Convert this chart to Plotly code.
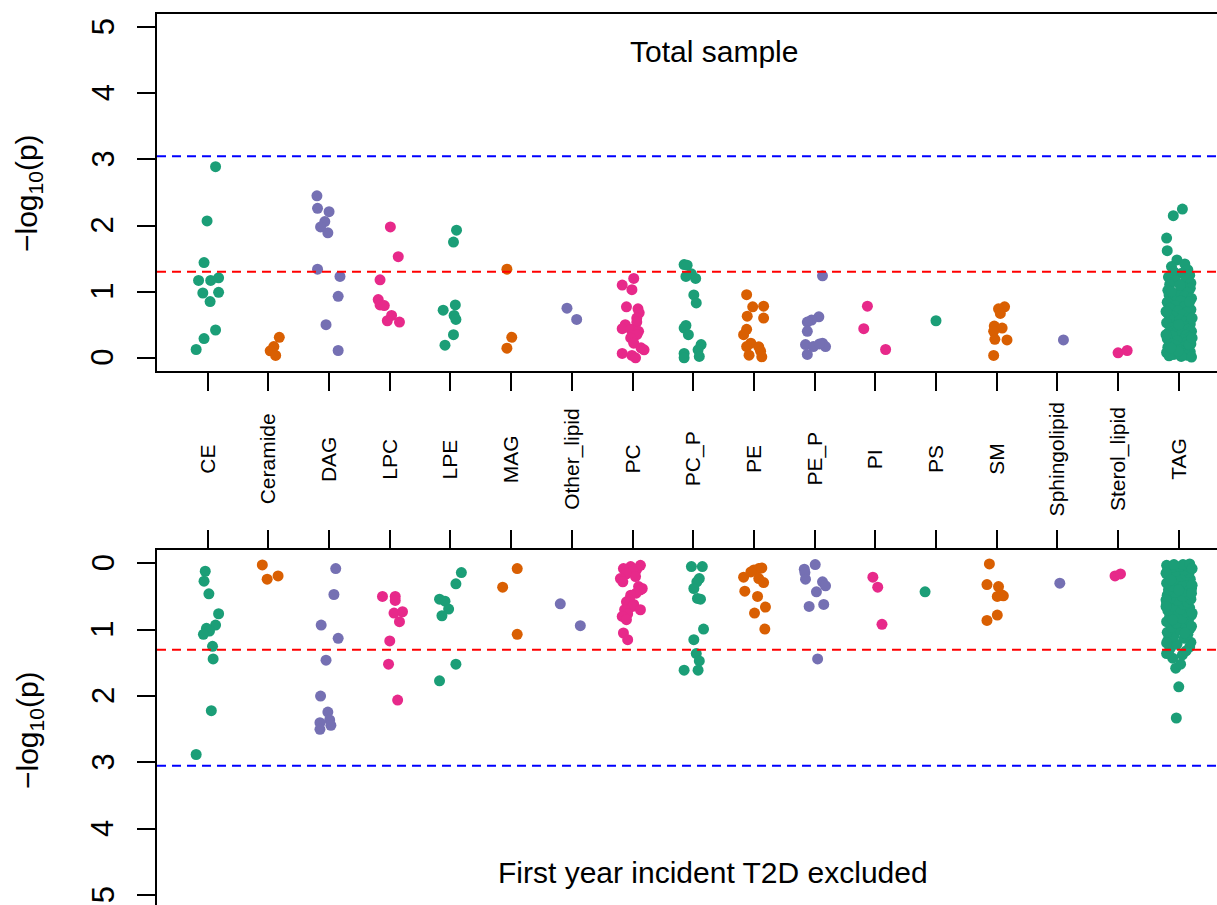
import plotly.graph_objects as go

# ---------------- data ----------------
categories = ["CE", "Ceramide", "DAG", "LPC", "LPE", "MAG", "Other_lipid", "PC",
              "PC_P", "PE", "PE_P", "PI", "PS", "SM", "Sphingolipid", "Sterol_lipid", "TAG"]
y_ticks = [0, 1, 2, 3, 4, 5]
y_tick_labels = ["0", "1", "2", "3", "4", "5"]
palette = ["#1B9E77", "#D95F02", "#7570B3", "#E7298A"]
bonferroni = 3.05
nominal = 1.301

# Total sample: -log10(p) values and horizontal jitter
CE_total = [2.89, 2.07, 1.44, 1.17, 1.17, 1.21, 0.98, 0.99, 0.85, 0.42, 0.29, 0.125]
CE_total_jit = [0.13, -0.01, -0.06, -0.15, 0.05, 0.18, -0.08, 0.18, 0.04, 0.13, -0.06, -0.19]
Ceramide_total = [0.31, 0.17, 0.105, 0.035]
Ceramide_total_jit = [0.18, 0.09, 0.03, 0.12]
DAG_total = [2.45, 2.26, 2.21, 2.06, 1.98, 1.89, 1.34, 1.23, 0.93, 0.50, 0.11]
DAG_total_jit = [-0.20, -0.19, 0.00, -0.07, -0.14, -0.02, -0.19, 0.18, 0.15, -0.05, 0.15]
LPC_total = [1.98, 1.53, 1.18, 0.88, 0.80, 0.79, 0.64, 0.56, 0.54]
LPC_total_jit = [0.01, 0.14, -0.16, -0.19, -0.16, -0.09, 0.03, -0.04, 0.16]
LPE_total = [1.93, 1.75, 0.80, 0.72, 0.64, 0.58, 0.35, 0.19]
LPE_total_jit = [0.10, 0.05, 0.08, -0.12, 0.06, 0.09, 0.05, -0.09]
MAG_total = [1.34, 0.31, 0.145]
MAG_total_jit = [-0.07, 0.01, -0.07]
Other_lipid_total = [0.75, 0.58]
Other_lipid_total_jit = [-0.08, 0.08]
PC_total = [1.20, 1.10, 1.03, 0.77, 0.74, 0.68, 0.60, 0.54, 0.50, 0.44, 0.43, 0.40, 0.35, 0.30,
            0.22, 0.15, 0.12, 0.065, 0.035, 0.00]
PC_total_jit = [0.02, -0.17, -0.01, -0.10, 0.09, 0.11, 0.07, 0.07, -0.12, -0.17, -0.03, 0.10, 0.07,
                -0.03, 0.02, 0.14, 0.19, -0.17, -0.01, 0.05]
PC_P_total = [1.41, 1.40, 1.27, 1.23, 1.20, 0.95, 0.83, 0.49, 0.45, 0.35, 0.20, 0.12, 0.065, 0.02, 0.00]
PC_P_total_jit = [-0.15, -0.10, -0.03, -0.12, 0.04, 0.01, 0.05, -0.12, -0.15, -0.08, 0.13, 0.08,
                  -0.15, 0.10, -0.15]
PE_total = [0.955, 0.78, 0.77, 0.63, 0.60, 0.43, 0.35, 0.22, 0.17, 0.165, 0.10, 0.015, 0.04]
PE_total_jit = [-0.12, 0.16, -0.02, -0.11, 0.16, -0.12, -0.17, -0.05, -0.12, 0.08, 0.11, 0.13, -0.08]
PE_P_total = [1.24, 0.62, 0.57, 0.54, 0.40, 0.22, 0.20, 0.17, 0.17, 0.05, 0.21]
PE_P_total_jit = [0.13, 0.07, -0.05, -0.12, -0.12, 0.13, -0.15, -0.02, 0.18, -0.12, 0.08]
PI_total = [0.78, 0.44, 0.125]
PI_total_jit = [-0.13, -0.19, 0.17]
PS_total = [0.56]
PS_total_jit = [0.0]
SM_total = [0.77, 0.74, 0.67, 0.48, 0.45, 0.40, 0.28, 0.27, 0.035]
SM_total_jit = [0.13, 0.03, 0.06, -0.04, 0.09, -0.05, -0.03, 0.17, -0.05]
Sphingolipid_total = [0.27]
Sphingolipid_total_jit = [0.10]
Sterol_lipid_total = [0.075, 0.11]
Sterol_lipid_total_jit = [0.0, 0.15]
TAG_total = [2.25, 2.15, 1.81, 1.62, 1.48, 1.42, 1.38, 1.33, 1.30, 1.28, 1.25, 1.22, 1.19, 1.16, 1.13,
             1.11, 1.07, 1.05, 1.02, 0.99, 0.97, 0.95, 0.93, 0.90, 0.88, 0.86, 0.84, 0.81, 0.79, 0.77,
             0.75, 0.73, 0.71, 0.69, 0.67, 0.65, 0.63, 0.61, 0.59, 0.57, 0.55, 0.53, 0.51, 0.49, 0.47,
             0.45, 0.43, 0.41, 0.40, 0.38, 0.36, 0.34, 0.33, 0.31, 0.29, 0.27, 0.26, 0.24, 0.22, 0.21,
             0.19, 0.17, 0.16, 0.14, 0.12, 0.11, 0.09, 0.08, 0.06, 0.05, 0.04, 0.03, 0.02, 0.01, 0.10,
             0.35, 0.60, 0.85, 1.00, 0.70, 0.20, 0.50, 0.30, 1.10, 0.15]
TAG_total_jit = [0.06, -0.09, -0.20, -0.19, -0.03, 0.10, -0.12, 0.15, -0.08, 0.05, 0.18, -0.17, 0.12,
                 -0.05, 0.20, -0.15, 0.08, 0.19, -0.18, 0.14, -0.02, -0.16, 0.10, 0.21, -0.10, 0.03,
                 -0.19, 0.16, -0.06, 0.09, -0.14, 0.20, -0.01, 0.13, -0.18, 0.06, -0.09, 0.17, -0.15,
                 0.02, 0.11, -0.20, 0.19, -0.04, 0.08, -0.13, 0.15, -0.07, 0.21, -0.17, 0.04, 0.12,
                 -0.10, 0.18, -0.19, 0.07, -0.03, 0.14, -0.15, 0.20, -0.06, 0.10, -0.18, 0.16, 0.01,
                 -0.11, 0.19, -0.20, 0.08, -0.08, 0.13, -0.16, 0.04, 0.21, -0.01, -0.21, 0.22, 0.18,
                 -0.12, -0.21, 0.17, 0.00, 0.22, 0.02, -0.13]

# First year incident T2D excluded
CE_excl = [0.12, 0.27, 0.46, 0.76, 0.93, 0.98, 1.02, 1.07, 1.25, 1.44, 2.22, 2.88]
CE_excl_jit = [-0.04, -0.06, 0.02, 0.18, 0.13, -0.02, 0.03, -0.07, 0.08, 0.09, 0.06, -0.19]
Ceramide_excl = [0.025, 0.24, 0.19]
Ceramide_excl_jit = [-0.10, -0.02, 0.16]
DAG_excl = [0.08, 0.47, 0.93, 1.13, 1.46, 2.00, 2.24, 2.36, 2.40, 2.44, 2.50]
DAG_excl_jit = [0.11, 0.08, -0.13, 0.15, -0.05, -0.14, -0.02, 0.01, -0.15, 0.03, -0.15]
LPC_excl = [0.50, 0.50, 0.56, 0.75, 0.73, 0.88, 1.17, 1.52, 2.06]
LPC_excl_jit = [-0.12, 0.09, 0.09, 0.07, 0.21, 0.16, 0.00, -0.02, 0.13]
LPE_excl = [0.14, 0.31, 0.54, 0.57, 0.69, 0.79, 1.52, 1.77]
LPE_excl_jit = [0.18, 0.09, -0.18, -0.09, -0.03, -0.14, 0.09, -0.18]
MAG_excl = [0.08, 0.36, 1.07]
MAG_excl_jit = [0.10, -0.14, 0.10]
Other_lipid_excl = [0.61, 0.94]
Other_lipid_excl_jit = [-0.19, 0.14]
PC_excl = [0.03, 0.05, 0.08, 0.09, 0.12, 0.16, 0.20, 0.23, 0.28, 0.35, 0.38, 0.40, 0.45, 0.48, 0.55,
           0.58, 0.62, 0.65, 0.70, 0.70, 0.76, 0.80, 0.85, 1.05, 1.15]
PC_excl_jit = [0.13, -0.03, -0.15, 0.07, 0.01, -0.10, 0.05, -0.20, -0.16, 0.10, 0.16, 0.13, 0.06,
               -0.03, -0.05, -0.10, 0.02, 0.00, -0.13, 0.13, -0.08, -0.17, -0.10, -0.15, -0.08]
PC_P_excl = [0.05, 0.05, 0.23, 0.28, 0.38, 0.53, 0.54, 0.99, 1.15, 1.36, 1.47, 1.61, 1.61]
PC_P_excl_jit = [-0.03, 0.15, 0.10, 0.06, 0.01, 0.07, 0.12, 0.17, 0.01, 0.05, 0.10, -0.15, 0.08]
PE_excl = [0.21, 0.10, 0.08, 0.07, 0.23, 0.29, 0.42, 0.50, 0.66, 0.75, 0.99, 0.13]
PE_excl_jit = [-0.17, 0.00, 0.08, 0.13, 0.08, 0.16, -0.15, 0.06, 0.19, 0.01, 0.18, -0.05]
PE_P_excl = [0.02, 0.09, 0.14, 0.24, 0.28, 0.34, 0.43, 0.65, 0.62, 1.44]
PE_P_excl_jit = [0.01, -0.17, -0.16, -0.15, 0.13, 0.18, 0.03, -0.09, 0.15, 0.05]
PI_excl = [0.21, 0.36, 0.92]
PI_excl_jit = [-0.04, 0.04, 0.11]
PS_excl = [0.43]
PS_excl_jit = [-0.18]
SM_excl = [0.01, 0.32, 0.35, 0.50, 0.49, 0.78, 0.86, 0.47]
SM_excl_jit = [-0.12, -0.16, 0.03, 0.01, 0.11, 0.01, -0.16, 0.07]
Sphingolipid_excl = [0.30]
Sphingolipid_excl_jit = [0.04]
Sterol_lipid_excl = [0.19, 0.16]
Sterol_lipid_excl_jit = [-0.05, 0.04]
TAG_excl = [2.33, 1.86, 1.58, 1.52, 1.43, 1.38, 1.36, 1.32, 1.28, 1.26, 1.22, 1.19, 1.16, 1.13, 1.10,
            1.07, 1.04, 1.01, 0.98, 0.96, 0.93, 0.90, 0.88, 0.85, 0.83, 0.80, 0.78, 0.76, 0.73, 0.71,
            0.69, 0.67, 0.64, 0.62, 0.60, 0.58, 0.56, 0.54, 0.52, 0.50, 0.48, 0.46, 0.44, 0.42, 0.40,
            0.38, 0.36, 0.34, 0.32, 0.30, 0.28, 0.26, 0.24, 0.22, 0.20, 0.18, 0.16, 0.14, 0.12, 0.10,
            0.09, 0.07, 0.06, 0.05, 0.04, 0.03, 0.02, 0.02, 0.01, 0.08, 0.15, 0.33, 0.55, 0.75, 0.95,
            1.20, 0.65, 0.45, 0.25, 0.85, 1.05, 0.40]
TAG_excl_jit = [-0.04, 0.00, -0.05, 0.03, -0.10, 0.06, -0.20, 0.12, -0.14, 0.18, -0.03, 0.20, -0.18,
                0.09, -0.08, 0.15, -0.19, 0.02, 0.19, -0.12, 0.11, -0.04, -0.20, 0.16, 0.05, -0.15,
                0.21, -0.07, 0.12, -0.18, 0.03, 0.18, -0.11, 0.08, -0.20, 0.14, -0.02, 0.20, -0.14,
                0.06, -0.19, 0.17, -0.06, 0.10, -0.17, 0.21, 0.01, -0.12, 0.15, -0.20, 0.07, -0.09,
                0.19, -0.16, 0.04, 0.12, -0.19, 0.17, -0.05, 0.09, -0.18, 0.20, -0.11, 0.02, 0.14,
                -0.20, 0.07, -0.08, 0.18, 0.22, -0.21, 0.22, -0.21, 0.22, 0.21, -0.20, -0.21, 0.21,
                -0.13, -0.10, 0.10, 0.00]

total_vals = [CE_total, Ceramide_total, DAG_total, LPC_total, LPE_total, MAG_total, Other_lipid_total,
              PC_total, PC_P_total, PE_total, PE_P_total, PI_total, PS_total, SM_total,
              Sphingolipid_total, Sterol_lipid_total, TAG_total]
total_jit = [CE_total_jit, Ceramide_total_jit, DAG_total_jit, LPC_total_jit, LPE_total_jit,
             MAG_total_jit, Other_lipid_total_jit, PC_total_jit, PC_P_total_jit, PE_total_jit,
             PE_P_total_jit, PI_total_jit, PS_total_jit, SM_total_jit, Sphingolipid_total_jit,
             Sterol_lipid_total_jit, TAG_total_jit]
excl_vals = [CE_excl, Ceramide_excl, DAG_excl, LPC_excl, LPE_excl, MAG_excl, Other_lipid_excl,
             PC_excl, PC_P_excl, PE_excl, PE_P_excl, PI_excl, PS_excl, SM_excl,
             Sphingolipid_excl, Sterol_lipid_excl, TAG_excl]
excl_jit = [CE_excl_jit, Ceramide_excl_jit, DAG_excl_jit, LPC_excl_jit, LPE_excl_jit,
            MAG_excl_jit, Other_lipid_excl_jit, PC_excl_jit, PC_P_excl_jit, PE_excl_jit,
            PE_P_excl_jit, PI_excl_jit, PS_excl_jit, SM_excl_jit, Sphingolipid_excl_jit,
            Sterol_lipid_excl_jit, TAG_excl_jit]

# ---------------- figure ----------------
FONT = "Liberation Sans, Arial, Helvetica, sans-serif"
W, H = 1217, 905
ML, MR, MT, MB = 157, 0, 14, 0
PW, PH = W - ML - MR, H - MT - MB


def px_x(px):
    return (px - ML) / PW


def px_y(py):
    return (H - MB - py) / PH


fig = go.Figure()
for i, cat in enumerate(categories):
    col = palette[i % 4]
    fig.add_trace(go.Scatter(
        x=[i + 1 + d for d in total_jit[i]], y=total_vals[i], mode="markers",
        marker=dict(color=col, size=11, line=dict(width=0)),
        xaxis="x", yaxis="y", showlegend=False, name=cat, hoverinfo="skip"))
    fig.add_trace(go.Scatter(
        x=[i + 1 + d for d in excl_jit[i]], y=excl_vals[i], mode="markers",
        marker=dict(color=col, size=11, line=dict(width=0)),
        xaxis="x2", yaxis="y2", showlegend=False, name=cat, hoverinfo="skip"))

xr = [0.165, 17.63]
ticks_x = list(range(1, len(categories) + 1))
common_axis = dict(showgrid=False, zeroline=False, showline=True, linecolor="black", linewidth=2,
                   ticks="outside", ticklen=18, tickwidth=2, tickcolor="black")

top_dom = [px_y(371), 1]
bot_dom = [0, px_y(550)]

fig.update_layout(
    width=W, height=H, margin=dict(l=ML, r=MR, t=MT, b=MB, pad=0),
    paper_bgcolor="white", plot_bgcolor="white",
    font=dict(family=FONT, color="black"),
    xaxis=dict(domain=[0, 1], range=xr, anchor="y", tickvals=ticks_x, showticklabels=False,
               mirror=True, **common_axis),
    yaxis=dict(domain=top_dom, range=[-0.2, 5.2], anchor="x", tickvals=y_ticks,
               showticklabels=False, **common_axis),
    xaxis2=dict(domain=[0, 1], range=xr, anchor="y2", side="top", tickvals=ticks_x,
                showticklabels=False, **common_axis),
    yaxis2=dict(domain=bot_dom, range=[-0.2 + (905 - 550) / 66.4, -0.2], anchor="x2",
                tickvals=y_ticks, showticklabels=False, **common_axis),
)

shapes = []
for yref, val, colr in [("y", bonferroni, "#0000FF"), ("y", nominal, "#FF0000"),
                        ("y2", bonferroni, "#0000FF"), ("y2", nominal, "#FF0000")]:
    xref = "x domain" if yref == "y" else "x2 domain"
    shapes.append(dict(type="line", xref=xref, yref=yref, x0=0, x1=1, y0=val, y1=val,
                       line=dict(color=colr, width=2, dash="9px,6px"), layer="above"))
fig.update_layout(shapes=shapes)

annotations = []
# rotated y tick labels (R style, reading upwards)
for yref in ("y", "y2"):
    for tv, tl in zip(y_ticks, y_tick_labels):
        annotations.append(dict(text=tl, x=px_x(103), xref="paper", y=tv, yref=yref,
                                textangle=-90, showarrow=False, xanchor="center",
                                yanchor="middle", font=dict(size=31, family=FONT, color="black")))
for i, cat in enumerate(categories):
    annotations.append(dict(text=cat, x=i + 1, xref="x", y=px_y(459), yref="paper",
                            textangle=-90, showarrow=False, xanchor="center", yanchor="middle",
                            font=dict(size=21, family=FONT, color="black")))
annotations.append(dict(text="Total sample", x=px_x(714), y=px_y(51), xref="paper", yref="paper",
                        showarrow=False, xanchor="center", yanchor="middle",
                        font=dict(size=30, family=FONT, color="black")))
annotations.append(dict(text="First year incident T2D excluded", x=px_x(713), y=px_y(872),
                        xref="paper", yref="paper", showarrow=False, xanchor="center",
                        yanchor="middle", font=dict(size=30, family=FONT, color="black")))
for yc in (193, 730):
    annotations.append(dict(text="\u2212log<sub>10</sub>(p)", x=px_x(29), y=px_y(yc), xref="paper",
                            yref="paper", textangle=-90, showarrow=False, xanchor="center",
                            yanchor="middle", font=dict(size=30, family=FONT, color="black")))
fig.update_layout(annotations=annotations)

fig.write_html("out.html")
